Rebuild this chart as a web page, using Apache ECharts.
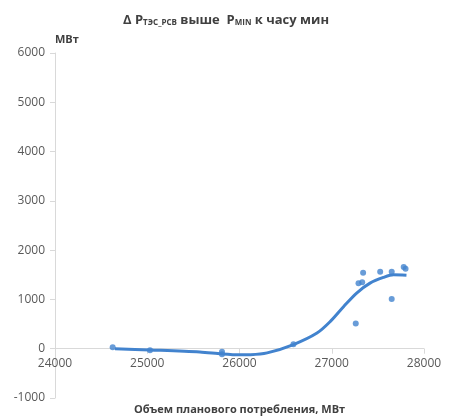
<!DOCTYPE html>
<html>
<head>
<meta charset="utf-8">
<script src="https://cdn.jsdelivr.net/npm/echarts@6/dist/echarts.min.js"></script>
<style>
  html, body { margin: 0; padding: 0; background: #fff; }
  #chart { width: 452px; height: 418px; }
</style>
</head>
<body>
<div id="chart"></div>
<script>
// observed hours: plan consumption (MW) vs delta P above Pmin (MW)
const obsX = [24625, 25030, 25810, 25810, 26585, 27260, 27290, 27330, 27340, 27525, 27650, 27650, 27780, 27800];
const obsY = [30, -30, -60, -110, 90, 510, 1330, 1350, 1540, 1560, 1560, 1010, 1660, 1620];

// trendline
const trendX = [24650, 25030, 25570, 25810, 26010, 26120, 26300, 26585, 26840, 26985, 27130, 27270, 27415, 27560, 27670, 27810];
const trendY = [0, -25, -67, -105, -122, -120, -85, 85, 318, 555, 858, 1130, 1330, 1446, 1500, 1490];

const xTicks = [24000, 25000, 26000, 27000, 28000];
const yTicks = [-1000, 0, 1000, 2000, 3000, 4000, 5000, 6000];

const blue = '#4283ce';
const font = '"Open Sans", "Liberation Sans", sans-serif';

const chart = echarts.init(document.getElementById('chart'));

// plot height 345px over 7000 MW -> zero line sits 1000 MW above the bottom
const zeroOffset = -345 / 7;

chart.setOption({
  animation: false,
  title: {
    text: '{b|Δ P}{s|ТЭС_РСВ}{b| выше  P}{s|MIN}{b| к часу мин}',
    left: 'center',
    top: 8,
    textStyle: {
      rich: {
        b: { fontFamily: font, fontSize: 13, fontWeight: 'bold', color: '#404040' },
        s: { fontFamily: font, fontSize: 8, fontWeight: 'bold', color: '#404040', verticalAlign: 'bottom', padding: [6, 0, 0, 0] }
      }
    }
  },
  grid: { left: 55, right: 28, top: 53, bottom: 20, containLabel: false, outerBoundsMode: 'none' },
  xAxis: {
    type: 'value',
    min: xTicks[0],
    max: xTicks[xTicks.length - 1],
    interval: 1000,
    position: 'bottom',
    offset: zeroOffset,
    name: 'Объем планового потребления, МВт',
    nameLocation: 'middle',
    nameGap: 56,
    nameTextStyle: { fontFamily: font, fontSize: 11, fontWeight: 'bold', color: '#404040' },
    axisLine: { onZero: false, lineStyle: { color: '#d9d9d9', width: 1 } },
    axisTick: { show: true, length: 5, lineStyle: { color: '#d9d9d9' } },
    axisLabel: { fontFamily: font, fontSize: 12, color: '#595959', margin: 9, formatter: v => String(v) },
    splitLine: { show: false }
  },
  yAxis: {
    type: 'value',
    min: yTicks[0],
    max: yTicks[yTicks.length - 1],
    interval: 1000,
    name: 'МВт',
    nameLocation: 'end',
    nameGap: 8,
    nameTextStyle: { fontFamily: font, fontSize: 11, fontWeight: 'bold', color: '#404040', align: 'left' },
    axisLine: { show: true, onZero: false, lineStyle: { color: '#d9d9d9', width: 1 } },
    axisTick: { show: true, length: 5, lineStyle: { color: '#d9d9d9' } },
    axisLabel: { fontFamily: font, fontSize: 12, color: '#595959', margin: 10, formatter: v => String(v) },
    splitLine: { show: false }
  },
  series: [
    {
      type: 'line',
      data: trendX.map((x, i) => [x, trendY[i]]),
      smooth: 0.3,
      showSymbol: false,
      lineStyle: { color: blue, width: 3 },
      z: 2
    },
    {
      type: 'scatter',
      data: obsX.map((x, i) => [x, obsY[i]]),
      symbolSize: 6,
      itemStyle: { color: blue },
      z: 3
    }
  ]
});
</script>
</body>
</html>
